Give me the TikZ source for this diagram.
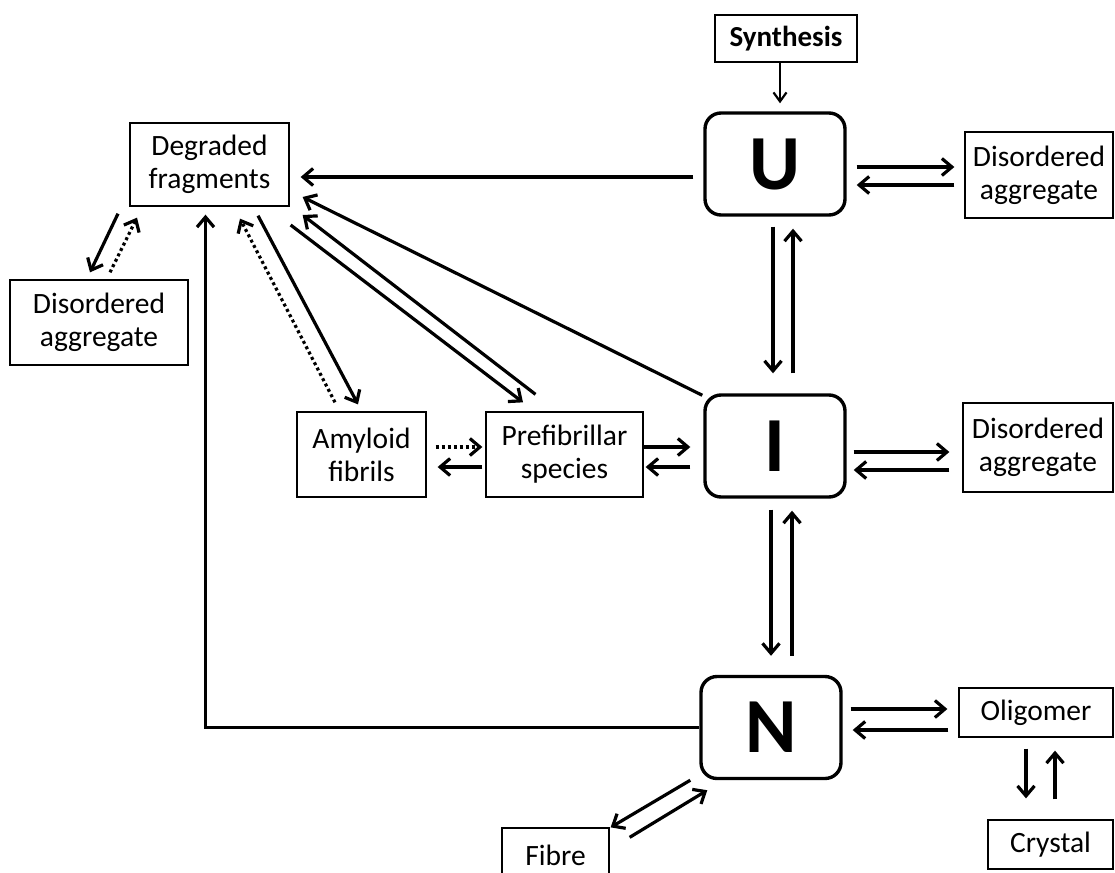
\documentclass[tikz,border=0pt]{standalone}
\usepackage{fontspec}
\setmainfont{Carlito}
\usetikzlibrary{arrows.meta,calc}
\begin{document}
\begin{tikzpicture}[x=1pt,y=-1pt,
 box/.style={draw,line width=1.3pt,inner sep=0pt,align=center,font=\fontsize{29.5}{33}\selectfont},
 state/.style={draw,line width=3.4pt,rounded corners=16pt,inner sep=0pt,minimum width=140pt,minimum height=102pt,font=\fontsize{78}{78}\selectfont\bfseries},
 arr/.style={line width=3.2pt,-{Straight Barb[length=10pt,width=17pt]}},
 dotarr/.style={arr,dash pattern=on 3pt off 3pt},
 thinarr/.style={line width=2.2pt,-{Straight Barb[length=9pt,width=13pt]}}]
\useasboundingbox (0,0) rectangle (1115,872);

\node[box,minimum width=142pt,minimum height=47pt,font=\fontsize{29}{33}\selectfont\bfseries] (syn) at (786,38.5) {Synthesis};
\node[state] (U) at (775,164) {U};
\node[state] (I) at (775,446) {I};
\node[state] (N) at (771,727.5) {N};
\node[box,minimum width=148pt,minimum height=86pt] (dtr) at (1039,175) {Disordered\\aggregate};
\node[box,minimum width=150pt,minimum height=89pt] (dmr) at (1038,447.5) {Disordered\\aggregate};
\node[box,minimum width=159pt,minimum height=83pt] (deg) at (209.5,164.5) {Degraded\\fragments};
\node[box,minimum width=178pt,minimum height=85pt] (dl) at (99,322.5) {Disordered\\aggregate};
\node[box,minimum width=129pt,minimum height=85pt] (amy) at (361.5,454.5) {Amyloid\\fibrils};
\node[box,minimum width=157pt,minimum height=85pt] (pre) at (564.5,454.5) {Prefibrillar\\species};
\node[box,minimum width=154pt,minimum height=49pt] (olig) at (1036,712.5) {Oligomer};
\node[box,minimum width=125pt,minimum height=49pt] (crys) at (1050.5,844.5) {Crystal};
\node[box,minimum width=107pt,minimum height=54pt] (fib) at (555.5,855) {Fibre};

% Synthesis -> U
\draw[thinarr] ($(syn.south)+(-6,0)$) -- ($(U.north)+(5,-8)$);
% U <-> disordered (top right)
\draw[arr] ($(U.east)+(10,3)$) -- ($(dtr.west)+(-10,-8)$);
\draw[arr] ($(dtr.west)+(-10,10)$) -- ($(U.east)+(10,21)$);
% U -> degraded
\draw[arr] ($(U.west)+(-10,13)$) -- ($(deg.east)+(11,12.5)$);
% U <-> I
\draw[arr] ($(U.south)+(-2,10)$) -- ($(I.north)+(-2,-20)$);
\draw[arr] ($(I.north)+(18,-20)$) -- ($(U.south)+(18,12)$);
% I -> degraded
\draw[arr] ($(I.north west)+(-1,2)$) -- ($(deg.east)+(13,32.5)$);
% prefibrillar <-> degraded
\draw[arr] ($(pre.north)+(-29,-17)$) -- ($(deg.east)+(13,50.5)$);
\draw[arr] ($(deg.east)+(1,60.5)$) -- ($(pre.north)+(-41.5,-9)$);
% degraded <-> amyloid
\draw[arr] ($(deg.south)+(48.5,9)$) -- ($(amy.north)+(-3.5,-7)$);
\draw[dotarr] ($(amy.north)+(-26.5,-9)$) -- ($(deg.south)+(30.5,12)$);
% degraded <-> disordered (left)
\draw[arr] ($(deg.south)+(-91.5,7)$) -- ($(dl.north)+(-9,-7)$);
\draw[dotarr] ($(dl.north)+(11,-7)$) -- ($(deg.south)+(-72.5,11)$);
% N -> degraded
\draw[arr] (N.west) -| ($(deg.south)+(-4,8)$);
% amyloid <-> prefibrillar
\draw[dotarr] ($(amy.east)+(9,-7.5)$) -- ($(pre.west)+(-3,-7.5)$);
\draw[arr] ($(pre.west)+(-3,12.5)$) -- ($(amy.east)+(11,12.5)$);
% prefibrillar <-> I
\draw[arr] ($(pre.east)+(0,-7.5)$) -- ($(I.west)+(-13,1)$);
\draw[arr] ($(I.west)+(-13,21)$) -- ($(pre.east)+(2,12.5)$);
% I <-> disordered (middle right)
\draw[arr] ($(I.east)+(7,6)$) -- ($(dmr.west)+(-13,4.5)$);
\draw[arr] ($(dmr.west)+(-13,22.5)$) -- ($(I.east)+(7,24)$);
% I <-> N
\draw[arr] ($(I.south)+(-4,11)$) -- ($(N.north)+(0,-19)$);
\draw[arr] ($(N.north)+(21,-19)$) -- ($(I.south)+(17,12)$);
% N <-> oligomer
\draw[arr] ($(N.east)+(8,-18.5)$) -- ($(olig.west)+(-11,-3.5)$);
\draw[arr] ($(olig.west)+(-10,17.5)$) -- ($(N.east)+(10,2.5)$);
% oligomer <-> crystal
\draw[arr] ($(olig.south)+(-10,11)$) -- ($(crys.north)+(-24.5,-21)$);
\draw[arr] ($(crys.north)+(4.5,-20)$) -- ($(olig.south)+(19,13)$);
% N <-> fibre
\draw[arr] ($(N.south west)+(-9,0)$) -- ($(fib.north east)+(1,0)$);
\draw[arr] ($(fib.north east)+(20,10)$) -- ($(N.south west)+(8,10)$);
\end{tikzpicture}
\end{document}
